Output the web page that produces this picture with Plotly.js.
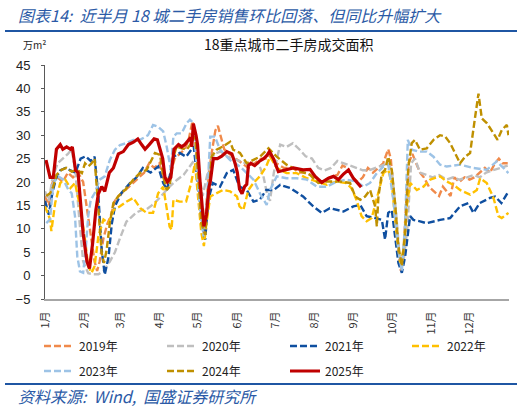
<!DOCTYPE html>
<html>
<head>
<meta charset="utf-8">
<script src="https://cdn.plot.ly/plotly-3.0.1.min.js"></script>
<style>
html,body{margin:0;padding:0;background:#fff;}
#chart{width:526px;height:409px;}
</style>
</head>
<body>
<div id="chart"></div>
<script>
// ---- tick labels ----
var monthDays = [0,31,59,90,120,151,181,212,243,273,304,334];
var monthLabels = ['1月','2月','3月','4月','5月','6月','7月','8月','9月','10月','11月','12月'];
var seriesNames = ['2019年','2020年','2021年','2022年','2023年','2024年','2025年'];

// ---- series (day of year, value in 万m²) ----
var d2019 = [0,3,6,10,14,18,22,26,30,33,36,39,41,43,46,49,52,55,58,62,66,70,74,78,82,86,90,93,96,99,102,106,110,113,116,119,121,123,125,127,129,131,134,136,138,141,145,150,155,160,165,170,175,178,182,188,195,200,206,212,218,224,230,234,238,242,246,250,254,258,262,266,270,272,275,278,280,282,284,286,289,292,295,298,302,306,310,313,316,319,322,326,330,334,338,342,346,350,354,357,360,364];
var v2019 = [17,15,20,21,20,22,21,22,20,14,8,3,1,3,8,11,13,16,17,18,19,20,21,22,24,23,24,21,20,22,25,26,27,29,33,28,20,12,9,15,22,26,31,32,30,27,26,25,24,23,24,25,25,26,24,23,23,22,22,21,20,21,21.5,23.5,23,21,20,21,23,22,23,24,27,25,15,5,1,5,15,24,26,24,22,21,19,18,17,19,18,17,21,20,21,20.5,21,22,23,22,24,25,24,24];

var d2020 = [0,3,6,10,14,18,21,24,27,30,34,38,42,46,51,55,59,64,68,72,76,80,84,88,93,98,104,109,113,117,121,124,128,133,138,143,148,153,158,163,168,172,175,177,180,185,190,195,200,205,210,215,220,225,230,235,240,245,250,255,260,265,270,273,276,279,282,285,288,291,295,300,305,310,316,321,326,332,337,342,347,352,358,364];
var v2020 = [18,16,21,24,25,26,27,22,12,3,0.5,0.3,0.3,1,3,5,8,11.5,12.5,13.5,14,14.2,15,16,17.5,19,20.5,21.5,23,24.5,22,17,22,26,26.5,25.5,25,24.5,24,23.5,24,21,17,16,22,28,27.5,28.3,27,25.5,25,23,22.5,23,24.5,24,23.5,23,22.5,22.5,23,23.5,24,22,14,4,3,10,24,25,22,21.5,21,21.5,20.5,21,20.5,21,21.5,21,22,22.5,23,23.5];

var d2021 = [0,3,6,9,12,16,20,24,28,32,36,39,42,44.6,47,50,52.5,55,60,67,72,77,83,89,93,96,101,106,111,117,121,125,126,128.5,132,137.7,143,148,153,158.7,164,169,174,180,185,193,203,211,217.7,224,234.8,242.6,248,253,259.7,265,267.5,270,272.8,275.4,278,280.7,283.3,287.2,289.8,295,300,310.8,318.7,326.5,333,337,342,350,354,359,364.6];
var v2021 = [16,13,18,21,22.5,23,22.5,22,25,25.5,24.5,25.4,17,5.5,0.2,4,11,14.8,17.6,19.8,21,23,22,23.3,19.8,18.3,25.4,26.2,25.4,27.6,17.6,8.4,7.7,16.2,19.8,19,21.9,22.6,19,18.3,15.8,16.2,18.3,18.3,19.4,18.7,16.9,14.8,13.4,14.4,13.7,14.8,15.1,12.7,12.3,11.9,7.7,13.4,14,8.4,2.7,0.6,4.1,12.7,11.9,11.6,11.2,11.9,12.3,14.8,15.5,13.4,15.5,16.6,16.9,15.5,18];

var d2022 = [0,4,5,8,12,16,20,23.6,27.5,31.5,34,36.7,39,42,46,50,54,59,64,69.5,75,80,85,89,93,96,98,99.6,101,106,111,115,118,120.6,123,125,127,130,135,140,145.6,151,153,156,160,164,169,174,177,182.3,190,198,206,213.8,221.6,229.5,237,241,245,249,253,257,262,266.2,270,272.8,276.7,279.4,282,284.6,287.2,292.5,297.7,303,310.8,316,321.3,326.5,334.4,339.7,342.3,347.5,352.8,356.7,359.3,364.6];
var v2022 = [14.8,12,9.5,15.5,19.8,20.5,18.7,19.8,14.8,7.7,2,0.6,2,8.4,12,11.2,14,14.8,15.8,16.6,14.4,13.4,13.4,17.6,19,14,10.5,9.8,16.2,15.8,15.8,19.8,24,16.2,9.1,6.3,11.2,16.9,17.6,18.3,18,16.9,14.8,14,18.3,19.8,21.2,23.3,25.4,23,21.9,21.9,20.8,20.1,19.4,20.1,19.8,18.7,16.2,12.7,11.6,12.3,17.6,21.9,22.6,19.8,8.4,2.7,5.5,14.8,19.8,18.3,19,20.5,21.2,20.1,19.4,18.3,17.3,18.3,20.8,19.8,16.6,12.7,12.3,13.4];

var d2023 = [1,4,6.5,10.5,14.4,18.4,21,23.6,25.4,27.5,30,32,34,36,39,43,47,51,55,59,64,69.5,74.7,81,85,89,93,95.7,99,101,103.6,107.5,111.5,114,116.7,119.3,122,124.6,127,130,133.7,137.7,145.6,153.4,158.7,164,169,174.4,177,182.3,190,198,206,213.8,221.6,229.5,237,245,250.5,255.7,261,266.2,270,274,278,280.7,283.3,285.4,288.5,293.8,300.3,305.6,310.8,316,326.5,337,347.5,355.4,360.6,364.6];
var v2023 = [11.2,12,19.8,21.2,20.5,18.3,17.6,12.7,4.1,0.9,0.6,5.5,12.7,16.2,17.6,20.5,21.2,24.7,26.9,27.9,28.3,29,29,30,32.2,31.8,30.8,27.6,22.6,29.7,30.4,30.4,32.6,33.3,32.6,23.3,14,8.4,14,29.7,29.7,26.9,24.7,23.3,21.9,20.5,17.6,15.1,18.3,21.2,20.8,20.8,20.5,19,19,20.1,20.5,20.1,19,19.8,21.9,23.3,23.7,16.2,5.5,0.9,11.2,29,26.9,26.5,26.5,25.4,23.7,23.3,23.7,23,22.6,24.4,23,21.9];

var d2024 = [1,4,6.5,9,13,17,21,25,29,31.5,34,36.7,39,40.6,42.7,44.6,46.4,48.5,51,53.8,57.7,63,69.5,74.7,80,84,86.5,90.5,93,95.7,98,101,103.6,107.5,111.5,115,118,120.6,123,125.9,128.5,131,135,140,145.6,148,153.4,158.7,164,169,175.8,182.3,190,198,208.5,215,221.6,232,240,244,248,251.8,255.7,259.7,261,262.3,265,267.5,270,272.8,275.4,278,280.7,283.3,285.9,288.5,291,295,300.3,305.6,310.8,314.8,318.7,324,326.5,330.5,334.4,338.4,341,343.6,347.5,352.8,356,359.3,363.3,364.6];
var v2024 = [17,17.6,19,21.5,22.6,23,22.2,22.6,21.9,24,23.3,24,25,19,10.5,4.8,2.7,5.5,11.2,15.5,17,18.3,20.5,21.9,22.6,25,26.2,25.8,21.2,18.3,19,25.4,27.6,27.2,26.9,28.3,29.7,21.2,11.2,8.7,16.2,25.4,26.9,27.6,28.6,26.9,26.2,24,24.7,25.4,27.2,25.4,23.7,22.6,21.5,19.8,20.1,20.1,19.8,16.9,16.2,16.9,18.3,14.8,10.5,16.9,21.9,22.6,25.4,22.6,15.5,6.3,2,9.1,23.3,28.3,29,26.9,27.2,29,30,29.7,28.3,25.4,24,25.4,26.2,34,38.9,33.6,32.6,30.4,29,31.1,32.2,30];

var d2025 = [0.8,4,6.5,9,12,14,17,20,21.5,23,24,26,28,30,33,35,37.5,40,42,44.6,47,50.6,53.8,57.7,61.6,65.6,69.5,73,76,78.7,82,85.8,88.4,90.5,92.6,94.4,96.3,99,100,101.5,105,107.5,110,113,114.6,115.5,116.7,118.8,120,122,124,125,127,129,130,132.4,135.6,139,143,147,149.5,151.3,153,155,157,158.7,160,162,165,169,172,174.4,176.5,179.7,183.6,188.9,195.4,203,208.5,212.5,217.7,223,227,230.8,234.8,238.7,242.6,248.7];
var v2025 = [24.7,21,21,27,28,27,27.5,27,27.5,25,22.5,22,16,9,3,1.5,7,14,17.5,19,18,22,23,26,26.5,28,28.5,29.2,28,27,28,29.2,29,27,25,21,20,21,23,27,28,27.5,28,29,29.5,27.5,32.5,30,28,20,12,10.5,13,19,20,25,25,25.5,26.5,26,24,22,18.5,17.5,19,19.5,23.5,24,23.5,24.5,25,25.6,26.5,25,22.2,22.6,23,22.6,22.7,21.2,19.9,20.8,21.2,20.5,21.7,22.6,20.8,18.9];

// ---- styling ----
var colors = ['#F08A4B','#BFBFBF','#0F4FA0','#FFC000','#9DC3E6','#BF9000','#C00000'];
var xs = [d2019,d2020,d2021,d2022,d2023,d2024,d2025];
var ys = [v2019,v2020,v2021,v2022,v2023,v2024,v2025];

// pixel -> paper helpers (plot area: x 45..509, y 65..299)
var L = 45, R = 509, T = 65, B = 299, W = 526, H = 409;
function px(x){ return (x - L) / (R - L); }
function py(y){ return (B - y) / (B - T); }

var cjk = '"Noto Sans CJK SC", "Liberation Sans", Arial, sans-serif';
var blue = '#2B5AA6';

// legend slots: text start x, row centre y
var legX = [79, 202, 325, 447, 79, 202, 325];
var legY = [346, 346, 346, 346, 371, 371, 371];
var legIds = ['legend','legend2','legend3','legend4','legend5','legend6','legend7'];

var traces = [];
for (var i = 0; i < 7; i++) {
  var isLast = (i === 6);
  traces.push({
    type: 'scatter', mode: 'lines',
    x: xs[i], y: ys[i], name: seriesNames[i],
    legend: legIds[i],
    line: {color: colors[i], width: isLast ? 3.2 : 2.4, dash: isLast ? 'solid' : '7px,3px', shape: 'linear'},
    hoverinfo: 'skip'
  });
}

var layout = {
  width: W, height: H,
  margin: {l: L, r: W - R, t: T, b: H - B, pad: 0},
  paper_bgcolor: '#ffffff', plot_bgcolor: '#ffffff',
  font: {family: cjk, size: 12, color: '#222'},
  showlegend: true,
  xaxis: {
    range: [0, 365], tickmode: 'array', tickvals: monthDays, ticktext: monthLabels,
    tickangle: -90, tickfont: {size: 11, color: '#333', family: cjk},
    showgrid: false, zeroline: false, showline: true, linecolor: '#A6A6A6', linewidth: 2,
    ticks: '', ticklabelstandoff: 6, fixedrange: true
  },
  yaxis: {
    range: [-5, 45], dtick: 5, tick0: 0,
    tickfont: {size: 13, color: '#222', family: '"Liberation Sans", Arial, sans-serif'},
    showgrid: false, zeroline: false, showline: true, linecolor: '#595959', linewidth: 1,
    ticks: 'outside', ticklen: 3, tickcolor: '#595959', ticklabelstandoff: 8, fixedrange: true
  },
  shapes: [
    {type: 'line', xref: 'paper', yref: 'paper', x0: px(5), x1: px(517), y0: py(31), y1: py(31),
     line: {color: '#1F56A3', width: 2.2}},
    {type: 'line', xref: 'paper', yref: 'paper', x0: px(5), x1: px(517), y0: py(384), y1: py(384),
     line: {color: '#1F56A3', width: 2.2}}
  ],
  annotations: [
    {text: '<i>图表14:  近半月 18 城二手房销售环比回落、但同比升幅扩大</i>', xref: 'paper', yref: 'paper',
     x: px(16), y: py(15), xanchor: 'left', yanchor: 'middle', showarrow: false,
     font: {size: 16, color: blue, family: cjk}},
    {text: '万m²', xref: 'paper', yref: 'paper', x: px(21), y: py(44), xanchor: 'left', yanchor: 'middle',
     showarrow: false, font: {size: 10, color: '#222', family: cjk}},
    {text: '18重点城市二手房成交面积', xref: 'paper', yref: 'paper', x: px(289), y: py(44),
     xanchor: 'center', yanchor: 'middle', showarrow: false, font: {size: 14, color: '#111', family: cjk}},
    {text: '<i>资料来源:  Wind,  国盛证券研究所</i>', xref: 'paper', yref: 'paper', x: px(16), y: py(396),
     xanchor: 'left', yanchor: 'middle', showarrow: false, font: {size: 16, color: blue, family: cjk}}
  ]
};

for (var k = 0; k < 7; k++) {
  layout[legIds[k]] = {
    orientation: 'h', x: px(legX[k] - 40), y: py(legY[k]), xanchor: 'left', yanchor: 'middle',
    font: {size: 12, color: '#222', family: cjk}, bgcolor: 'rgba(0,0,0,0)',
    itemclick: false, itemdoubleclick: false, itemwidth: 30
  };
}

Plotly.newPlot('chart', traces, layout, {staticPlot: true, displayModeBar: false});
</script>
</body>
</html>
